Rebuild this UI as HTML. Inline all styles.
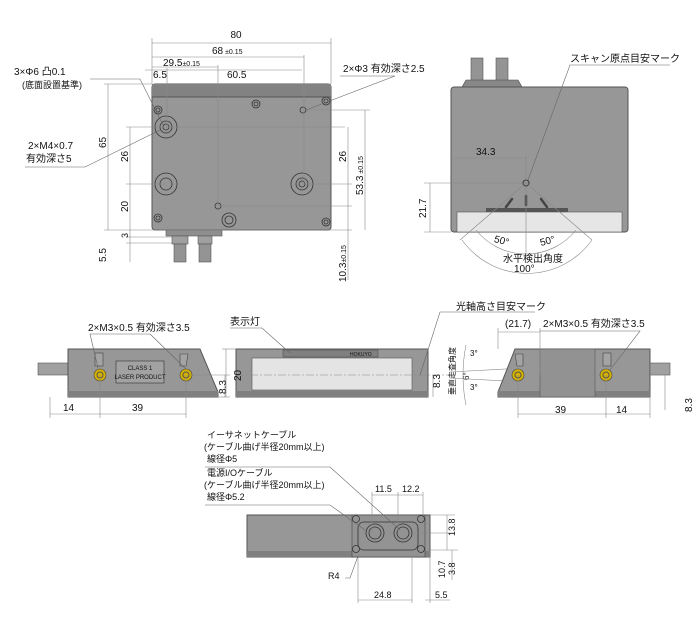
<!DOCTYPE html>
<html><head><meta charset="utf-8"><style>
body{margin:0;background:#fff}
svg{display:block}
text{font-family:"Liberation Sans","Noto Sans CJK JP",sans-serif;fill:#111}
.d{stroke:#888;stroke-width:.6;fill:none}
.b{fill:#979797;stroke:#555;stroke-width:1}
.l{stroke:#666;stroke-width:.6;fill:none}
</style></head><body>
<svg width="700" height="625" viewBox="0 0 700 625" xmlns="http://www.w3.org/2000/svg">
<!-- TOP LEFT VIEW -->
<rect x="152" y="84" width="179" height="146" rx="3" class="b"/>
<rect x="152" y="84" width="179" height="13" fill="#828282"/>
<line x1="152" y1="97" x2="331" y2="97" stroke="#444" stroke-width=".8"/>
<rect x="166" y="230" width="56" height="6" fill="#8e8e8e" stroke="#555" stroke-width=".6"/>
<rect x="172" y="236" width="16" height="8" fill="#a0a0a0" stroke="#555" stroke-width=".6"/>
<rect x="198" y="236" width="14" height="8" fill="#a0a0a0" stroke="#555" stroke-width=".6"/>
<rect x="174" y="244" width="12" height="18" fill="#949494" stroke="#555" stroke-width=".6"/>
<rect x="199" y="244" width="12" height="18" fill="#949494" stroke="#555" stroke-width=".6"/>
<g fill="none" stroke="#333" stroke-width=".8">
<circle cx="158" cy="110" r="4"/><circle cx="158" cy="110" r="2"/>
<circle cx="256" cy="104" r="4"/><circle cx="256" cy="104" r="2"/>
<circle cx="326" cy="101" r="4"/><circle cx="326" cy="101" r="2"/>
<circle cx="158" cy="218" r="4"/><circle cx="158" cy="218" r="2"/>
<circle cx="326" cy="222" r="4"/><circle cx="326" cy="222" r="2"/>
<circle cx="166" cy="127" r="11"/><circle cx="166" cy="127" r="6"/><circle cx="166" cy="127" r="3"/>
<circle cx="166" cy="184" r="11"/><circle cx="166" cy="184" r="6"/>
<circle cx="302" cy="184" r="11"/><circle cx="302" cy="184" r="6"/><circle cx="302" cy="184" r="3"/>
<circle cx="229" cy="220" r="7"/><circle cx="229" cy="220" r="4"/>
<circle cx="303" cy="110" r="3"/><circle cx="218" cy="206" r="3"/>
</g>
<g class="d">
<line x1="152" y1="43" x2="331" y2="43"/><line x1="152" y1="38" x2="152" y2="84"/><line x1="331" y1="38" x2="331" y2="84"/>
<line x1="152" y1="57" x2="304" y2="57"/><line x1="304" y1="55" x2="304" y2="184"/>
<line x1="152" y1="67" x2="218" y2="67"/><line x1="218" y1="65" x2="218" y2="206"/>
<line x1="145" y1="70" x2="302" y2="70"/><line x1="167" y1="68" x2="167" y2="127"/>
<line x1="108" y1="84" x2="108" y2="230"/><line x1="104" y1="84" x2="152" y2="84"/>
<line x1="130" y1="127" x2="130" y2="262"/><line x1="126" y1="127" x2="345" y2="127"/>
<line x1="126" y1="184" x2="166" y2="184"/><line x1="302" y1="184" x2="352" y2="184"/>
<line x1="104" y1="230" x2="352" y2="230"/><line x1="126" y1="237" x2="172" y2="237"/><line x1="126" y1="243" x2="172" y2="243"/>
<line x1="348" y1="127" x2="348" y2="280"/><line x1="218" y1="206" x2="352" y2="206"/>
<line x1="365" y1="110" x2="365" y2="230"/><line x1="306" y1="110" x2="370" y2="110"/>
</g>
<g class="l"><polyline points="90,79 140,79 163,125"/><polyline points="25,167 85,167 160,130"/><polyline points="340,76 395,76 306,110"/></g>
<g font-size="10">
<text x="236" y="38" text-anchor="middle">80</text>
<text x="212" y="54">68<tspan font-size="7"> ±0.15</tspan></text>
<text x="163" y="66">29.5<tspan font-size="7">±0.15</tspan></text>
<text x="153" y="78">6.5</text><text x="227" y="78">60.5</text>
<text x="14" y="75">3×Φ6 凸0.1</text><text x="22" y="88" font-size="9">(底面設置基準)</text>
<text x="28" y="149">2×M4×0.7</text><text x="26" y="162">有効深さ5</text>
<text x="343" y="72">2×Φ3 有効深さ2.5</text>
<text transform="translate(106,148) rotate(-90)">65</text>
<text transform="translate(128,162) rotate(-90)">26</text>
<text transform="translate(128,212) rotate(-90)">20</text>
<text transform="translate(128,238) rotate(-90)" font-size="9">3</text>
<text transform="translate(106,262) rotate(-90)">5.5</text>
<text transform="translate(346,162) rotate(-90)">26</text>
<text transform="translate(363,195) rotate(-90)">53.3<tspan font-size="7"> ±0.15</tspan></text>
<text transform="translate(346,282) rotate(-90)">10.3<tspan font-size="7">±0.15</tspan></text>
</g>

<!-- TOP RIGHT VIEW -->
<rect x="471" y="58" width="12" height="24" fill="#949494" stroke="#555" stroke-width=".6"/>
<rect x="496" y="58" width="12" height="24" fill="#949494" stroke="#555" stroke-width=".6"/>
<path d="M462 87 L466 80 L518 80 L522 87 Z" fill="#888" stroke="#444" stroke-width=".6"/>
<rect x="451" y="87" width="177" height="145" rx="3" class="b"/>
<rect x="457" y="212" width="165" height="20" fill="#e6e6e6" stroke="#555" stroke-width=".6"/>
<rect x="486" y="208" width="82" height="4" fill="#555"/>
<circle cx="526" cy="183" r="3" fill="none" stroke="#333"/>
<g stroke="#444" stroke-width="2.5" stroke-linecap="round"><line x1="506" y1="207" x2="512" y2="199"/><line x1="526" y1="196" x2="526" y2="205"/><line x1="541" y1="199" x2="547" y2="207"/></g>
<g class="d">
<line x1="451" y1="158" x2="526" y2="158"/><line x1="526" y1="155" x2="526" y2="253"/>
<line x1="430" y1="183" x2="430" y2="232"/><line x1="424" y1="183" x2="522" y2="183"/><line x1="424" y1="232" x2="451" y2="232"/>
<line x1="526" y1="183" x2="460" y2="240"/><line x1="526" y1="183" x2="592" y2="240"/>
<path d="M476 230 A64 64 0 0 0 576 230"/><path d="M462 240 A80 80 0 0 0 592 240"/>
</g>
<polyline class="l" points="670,65 570,65 528,180"/>
<g font-size="10">
<text x="570" y="62">スキャン原点目安マーク</text>
<text x="476" y="155">34.3</text>
<text transform="translate(426,218) rotate(-90)">21.7</text>
<text x="494" y="244" transform="rotate(15 502 241)">50°</text>
<text x="540" y="244" transform="rotate(-15 548 241)">50°</text>
<text x="503" y="262">水平検出角度</text>
<text x="514" y="272">100°</text>
</g>

<!-- MIDDLE LEFT -->
<rect x="38" y="363" width="30" height="12" fill="#a0a0a0" stroke="#555" stroke-width=".6"/>
<path d="M68 349 L200 349 L218 392 L218 397 L68 397 Z" class="b"/>
<rect x="68" y="391" width="150" height="6" fill="#808080"/>
<rect x="95" y="353" width="8" height="13" fill="#a4a4a4" stroke="#444" stroke-width=".6"/>
<path d="M180 354 L188 354 L186 366 L180 366 Z" fill="#a4a4a4" stroke="#444" stroke-width=".6"/>
<rect x="116" y="361" width="48" height="22" fill="#a2a2a2" stroke="#333" stroke-width=".6"/>
<text x="140" y="370" font-size="6" text-anchor="middle">CLASS 1</text>
<text x="140" y="379" font-size="6" text-anchor="middle">LASER PRODUCT</text>
<circle cx="100" cy="375" r="6" fill="#d4b000" stroke="#444" stroke-width=".6"/><circle cx="100" cy="375" r="3" fill="none" stroke="#555"/>
<circle cx="186" cy="375" r="6" fill="#d4b000" stroke="#444" stroke-width=".6"/><circle cx="186" cy="375" r="3" fill="none" stroke="#555"/>
<g class="d"><line x1="50" y1="414" x2="186" y2="414"/><line x1="50" y1="397" x2="50" y2="418"/><line x1="100" y1="375" x2="100" y2="418"/><line x1="186" y1="375" x2="186" y2="418"/>
<line x1="190" y1="375" x2="230" y2="375"/><line x1="218" y1="397" x2="230" y2="397"/><line x1="225" y1="375" x2="225" y2="397"/></g>
<polyline class="l" points="150,334 90,334 98,368"/><line class="l" x1="150" y1="334" x2="186" y2="369"/>
<g font-size="10"><text x="88" y="331">2×M3×0.5 有効深さ3.5</text><text x="63" y="411">14</text><text x="132" y="411">39</text>
<text transform="translate(226,394) rotate(-90)">8.3</text></g>

<!-- MIDDLE CENTER -->
<path d="M236 349 L428 349 L428 397 L236 397 Z" class="b"/>
<rect x="236" y="391" width="192" height="6" fill="#808080"/>
<rect x="252" y="358" width="160" height="32" fill="#e4e4e4" stroke="#555" stroke-width=".6"/>
<rect x="283" y="350" width="95" height="7" fill="#808080" stroke="#444" stroke-width=".5"/>
<text x="350" y="356" font-size="5" fill="#fff">HOKUYO</text>
<g class="d"><line x1="226" y1="349" x2="226" y2="397"/><line x1="222" y1="349" x2="236" y2="349"/>
<line x1="433" y1="375" x2="433" y2="397"/><line x1="236" y1="375" x2="450" y2="375" stroke-dasharray="8 2 2 2"/></g>
<polyline class="l" points="230,328 262,328 290,353"/>
<polyline class="l" points="535,312 440,312 420,375"/>
<g font-size="10"><text x="230" y="325">表示灯</text><text x="456" y="310">光軸高さ目安マーク</text>
<text transform="translate(241,381) rotate(-90)">20</text>
<text transform="translate(440,388) rotate(-90)">8.3</text>
<text transform="translate(455,395) rotate(-90)" font-size="8">垂直走査角度</text>
<text transform="translate(469,380) rotate(-90)" font-size="8">6°</text>
<text x="470" y="356" font-size="8">3°</text><text x="470" y="390" font-size="8">3°</text></g>
<g class="d"><line x1="450" y1="372" x2="525" y2="368"/><line x1="450" y1="378" x2="525" y2="382"/><path d="M466 345 Q460 375 466 405"/></g>

<!-- MIDDLE RIGHT -->
<path d="M515 349 L650 349 L650 397 L498 397 L498 392 Z" class="b"/>
<rect x="498" y="391" width="152" height="6" fill="#808080"/>
<rect x="540" y="349" width="55" height="48" fill="#929292" stroke="#555" stroke-width=".6"/>
<rect x="650" y="363" width="20" height="12" fill="#a0a0a0" stroke="#555" stroke-width=".6"/>
<rect x="603" y="353" width="8" height="13" fill="#a4a4a4" stroke="#444" stroke-width=".6"/>
<path d="M515 354 L523 354 L523 366 L517 366 Z" fill="#a4a4a4" stroke="#444" stroke-width=".6"/>
<circle cx="518" cy="375" r="6" fill="#d4b000" stroke="#444" stroke-width=".6"/><circle cx="518" cy="375" r="3" fill="none" stroke="#555"/>
<circle cx="606" cy="375" r="6" fill="#d4b000" stroke="#444" stroke-width=".6"/><circle cx="606" cy="375" r="3" fill="none" stroke="#555"/>
<g class="d"><line x1="518" y1="414" x2="650" y2="414"/><line x1="518" y1="375" x2="518" y2="418"/><line x1="606" y1="375" x2="606" y2="418"/><line x1="650" y1="397" x2="650" y2="418"/>
<line x1="498" y1="332" x2="540" y2="332"/><line x1="498" y1="328" x2="498" y2="349"/><line x1="540" y1="328" x2="540" y2="375"/>
<line x1="665" y1="375" x2="665" y2="410"/><line x1="650" y1="375" x2="670" y2="375"/></g>
<polyline class="l" points="540,331 640,331 610,370"/>
<g font-size="10"><text x="505" y="327">(21.7)</text><text x="543" y="327">2×M3×0.5 有効深さ3.5</text>
<text x="555" y="413">39</text><text x="616" y="413">14</text>
<text transform="translate(692,412) rotate(-90)">8.3</text></g>

<!-- BOTTOM VIEW -->
<rect x="247" y="515" width="183" height="42" class="b"/>
<rect x="247" y="551" width="183" height="6" fill="#808080"/>
<rect x="352" y="515" width="73" height="42" fill="#939393" stroke="#444" stroke-width=".6"/>
<rect x="358" y="522" width="60" height="28" rx="6" fill="none" stroke="#333" stroke-width=".8"/>
<g fill="none" stroke="#333" stroke-width=".8">
<circle cx="375" cy="533" r="9"/><circle cx="375" cy="533" r="6"/><circle cx="403" cy="533" r="9"/><circle cx="403" cy="533" r="6"/>
<circle cx="356" cy="519" r="3.5"/><circle cx="421" cy="519" r="3.5"/><circle cx="356" cy="549" r="3.5"/><circle cx="421" cy="549" r="3.5"/></g>
<g class="d"><line x1="372" y1="495" x2="423" y2="495"/><line x1="372" y1="492" x2="372" y2="533"/><line x1="398" y1="492" x2="398" y2="533"/><line x1="423" y1="492" x2="423" y2="515"/>
<line x1="447" y1="515" x2="447" y2="550"/><line x1="430" y1="515" x2="455" y2="515"/><line x1="412" y1="533" x2="455" y2="533"/><line x1="425" y1="550" x2="458" y2="550"/>
<line x1="452" y1="550" x2="452" y2="580"/><line x1="358" y1="600" x2="412" y2="600"/><line x1="358" y1="555" x2="358" y2="603"/><line x1="412" y1="555" x2="412" y2="603"/>
<line x1="425" y1="600" x2="450" y2="600"/><line x1="430" y1="557" x2="430" y2="603"/></g>
<polyline class="l" points="205,467 330,467 400,530"/><polyline class="l" points="205,505 330,505 365,530"/><polyline class="l" points="345,578 350,578 358,556"/>
<g font-size="9">
<text x="207" y="438">イーサネットケーブル</text><text x="204" y="450">(ケーブル曲げ半径20mm以上)</text><text x="207" y="462">線径Φ5</text>
<text x="207" y="476">電源I/Oケーブル</text><text x="204" y="488">(ケーブル曲げ半径20mm以上)</text><text x="207" y="500">線径Φ5.2</text>
<text x="375" y="492">11.5</text><text x="402" y="492">12.2</text>
<text x="328" y="579">R4</text><text x="374" y="598">24.8</text><text x="435" y="598">5.5</text>
<text transform="translate(455,536) rotate(-90)">13.8</text>
<text transform="translate(445,578) rotate(-90)">10.7</text>
<text transform="translate(455,575) rotate(-90)">3.8</text></g>
</svg>
</body></html>
